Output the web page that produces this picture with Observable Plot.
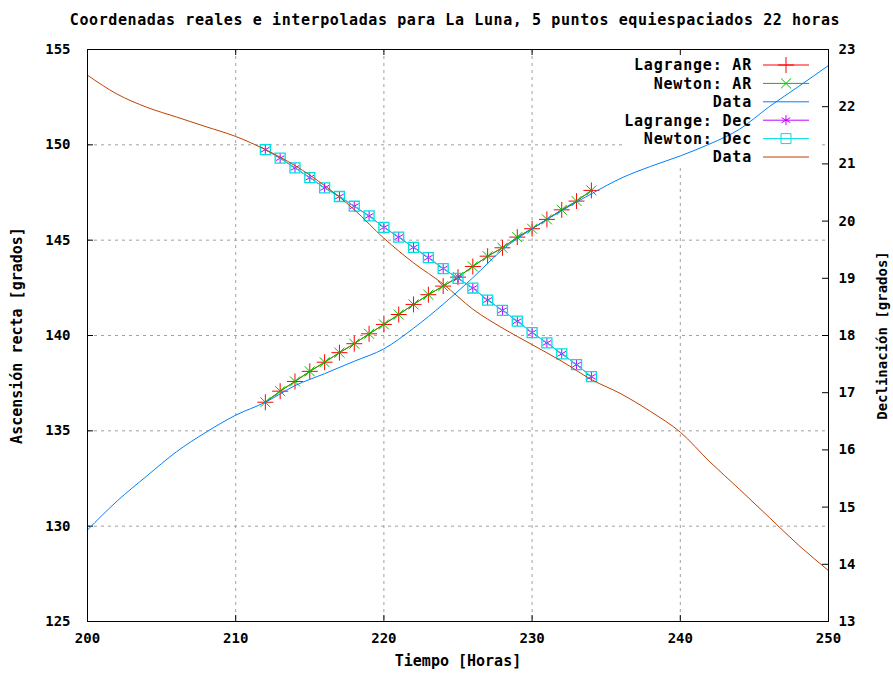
<!DOCTYPE html>
<html>
<head>
<meta charset="utf-8">
<script src="https://cdn.jsdelivr.net/npm/d3@7"></script>
<script src="https://cdn.jsdelivr.net/npm/@observablehq/plot@0.6"></script>
<style>
  body { margin: 0; background: #fff; }
  #title {
    width: 876px; height: 40px; padding-left: 17px;
    font-family: "DejaVu Sans Mono", monospace; font-weight: bold;
    font-size: 15px; letter-spacing: 0.6px; line-height: 40px;
    text-align: center; color: #000; white-space: nowrap;
  }
</style>
</head>
<body>
<div id="title">Coordenadas reales e interpoladas para La Luna, 5 puntos equiespaciados 22 horas</div>
<div id="chart"></div>
<script>
// ---------- data ----------
const interpHours = [212,213,214,215,216,217,218,219,220,221,222,223,224,225,226,227,228,229,230,231,232,233,234];
const raLagrange = [136.50,137.08,137.59,138.12,138.60,139.10,139.57,140.09,140.58,141.10,141.63,142.14,142.59,143.06,143.62,144.16,144.60,145.16,145.60,146.09,146.59,147.05,147.61];
const raNewton   = [136.50,137.08,137.59,138.12,138.60,139.10,139.57,140.09,140.58,141.10,141.63,142.14,142.59,143.06,143.62,144.16,144.60,145.16,145.60,146.09,146.59,147.05,147.61];
const decLagrange = [21.25,21.10,20.93,20.76,20.58,20.43,20.26,20.09,19.89,19.72,19.54,19.36,19.17,19.00,18.83,18.62,18.44,18.25,18.05,17.87,17.68,17.49,17.28];
const decNewton   = [21.25,21.10,20.93,20.76,20.58,20.43,20.26,20.09,19.89,19.72,19.54,19.36,19.17,19.00,18.83,18.62,18.44,18.25,18.05,17.87,17.68,17.49,17.28];

const dataHours = [200,202,204,206,208,210,212,214,216,218,220,222,224,226,228,230,232,234,236,238,240,242,244,246,248,250];
const raData  = [129.80,131.32,132.63,133.90,134.93,135.82,136.50,137.37,138.00,138.65,139.30,140.38,141.64,143.03,144.50,145.60,146.55,147.43,148.25,148.87,149.42,150.05,150.82,152.00,153.07,154.16];
const decData = [22.55,22.22,21.99,21.82,21.65,21.48,21.25,20.97,20.62,20.20,19.70,19.27,18.90,18.46,18.13,17.84,17.55,17.23,16.98,16.67,16.31,15.79,15.31,14.82,14.33,13.89];

const xTicks = [200,210,220,230,240,250];
const yTicks = [125,130,135,140,145,150,155];
const decTicks = [13,14,15,16,17,18,19,20,21,22,23];
const xGrid = [210,220,230,240];
const yGrid = [130,135,140,145,150];

const legendLabels = ["Lagrange: AR","Newton: AR","Data","Lagrange: Dec","Newton: Dec","Data"];
const seriesColors = ["#ff0000","#00c000","#0080ff","#c000ff","#00e0e0","#c04000"];

// ---------- helpers ----------
const Y0 = 125, D0 = 13, K = 3;           // right axis 13..23 maps onto left 125..155
const decToY = d => Y0 + (d - D0) * K;
const yToDec = y => (y - Y0) / K + D0;

const sizes = {plus: 85, times: 67, asterisk: 70, square2: 127};
const rOf = s => Math.sqrt(sizes[s] / Math.PI);
const d3sym = {plus: d3.symbolPlus, times: d3.symbolTimes, asterisk: d3.symbolAsterisk, square2: d3.symbolSquare2};
const legendSymbols = ["plus","times",null,"asterisk","square2",null];

const zip = (xs, ys, f = v => v) => xs.map((x, i) => ({x, y: f(ys[i])}));
const sRA_L = zip(interpHours, raLagrange);
const sRA_N = zip(interpHours, raNewton);
const sRA_D = zip(dataHours, raData);
const sDec_L = zip(interpHours, decLagrange, decToY);
const sDec_N = zip(interpHours, decNewton, decToY);
const sDec_D = zip(dataHours, decData, decToY);

const W = 893, H = 634, ML = 87, MR = 65, MT = 9, MB = 53;
const FW = W - ML - MR, FH = H - MT - MB;
const TS = 6;
const font = {fontFamily: "DejaVu Sans Mono", fontWeight: "bold", fontSize: 14};
const labelFont = {fontFamily: "DejaVu Sans Mono", fontWeight: "bold", fontSize: 15, textAnchor: "middle"};

function legendBox(index, scales, values, dims) {
  const right = dims.width - dims.marginRight, top = dims.marginTop;
  return d3.create("svg:rect")
    .attr("x", right - 206).attr("y", top).attr("width", 196).attr("height", 116)
    .attr("fill", "#fff").node();
}
function legendMark(index, scales, values, dims) {
  const right = dims.width - dims.marginRight, top = dims.marginTop;
  const g = d3.create("svg:g");
  legendLabels.forEach((lab, i) => {
    const y = top + 16 + 18.4 * i;
    g.append("text").text(lab)
      .attr("x", right - 76).attr("y", y).attr("dy", "0.36em")
      .attr("text-anchor", "end")
      .attr("font-family", "DejaVu Sans Mono").attr("font-weight", "bold")
      .attr("font-size", 15).attr("letter-spacing", 0.8).attr("fill", "#000");
    g.append("line").attr("x1", right - 65).attr("x2", right - 19)
      .attr("y1", y).attr("y2", y).attr("stroke", seriesColors[i]).attr("stroke-width", 1);
    const s = legendSymbols[i];
    if (s) g.append("path").attr("d", d3.symbol(d3sym[s], sizes[s])())
      .attr("transform", `translate(${right - 42},${y})`)
      .attr("fill", "none").attr("stroke", seriesColors[i]).attr("stroke-width", 1);
  });
  return g.node();
}

const grid = {stroke: "#a0a0a0", strokeDasharray: "3,4", strokeWidth: 1};

const plot = Plot.plot({
  width: W, height: H,
  marginLeft: ML, marginRight: MR, marginTop: MT, marginBottom: MB,
  x: {domain: [200, 250]},
  y: {domain: [125, 155]},
  style: {background: "#fff", overflow: "visible", fontFamily: "DejaVu Sans Mono"},
  marks: [
    Plot.ruleX(xGrid, {x: d => d, ...grid}),
    Plot.ruleY(yGrid, {y: d => d, ...grid}),
    legendBox,
    // inward ticks
    Plot.tickY(yTicks, {y: d => d, insetRight: FW - TS, stroke: "#000"}),
    Plot.tickY(decTicks, {y: decToY, insetLeft: FW - TS, stroke: "#000"}),
    Plot.tickX(xTicks, {x: d => d, insetTop: FH - TS, stroke: "#000"}),
    Plot.tickX(xTicks, {x: d => d, insetBottom: FH - TS, stroke: "#000"}),
    // RA series
    Plot.line(sRA_L, {x: "x", y: "y", stroke: seriesColors[0], strokeWidth: 1}),
    Plot.dot(sRA_L, {x: "x", y: "y", symbol: "plus", r: rOf("plus"), stroke: seriesColors[0], fill: "none", strokeWidth: 1}),
    Plot.line(sRA_N, {x: "x", y: "y", stroke: seriesColors[1], strokeWidth: 1}),
    Plot.dot(sRA_N, {x: "x", y: "y", symbol: "times", r: rOf("times"), stroke: seriesColors[1], fill: "none", strokeWidth: 1}),
    Plot.line(sRA_D, {x: "x", y: "y", stroke: seriesColors[2], strokeWidth: 1, curve: "monotone-x"}),
    // Dec series (right axis)
    Plot.line(sDec_L, {x: "x", y: "y", stroke: seriesColors[3], strokeWidth: 1}),
    Plot.dot(sDec_L, {x: "x", y: "y", symbol: "asterisk", r: rOf("asterisk"), stroke: seriesColors[3], fill: "none", strokeWidth: 1}),
    Plot.line(sDec_N, {x: "x", y: "y", stroke: seriesColors[4], strokeWidth: 1}),
    Plot.dot(sDec_N, {x: "x", y: "y", symbol: "square2", r: rOf("square2"), stroke: seriesColors[4], fill: "none", strokeWidth: 1.3}),
    Plot.line(sDec_D, {x: "x", y: "y", stroke: seriesColors[5], strokeWidth: 1, curve: "monotone-x"}),
    Plot.frame({stroke: "#000", strokeWidth: 1}),
    // axes
    Plot.axisX(xTicks, {tickSize: 0, tickPadding: 12, label: null, ...font}),
    Plot.axisY(yTicks, {anchor: "left", tickSize: 0, tickPadding: 17, label: null, ...font}),
    Plot.axisY(decTicks.map(decToY), {anchor: "right", tickSize: 0, tickPadding: 10, label: null,
      tickFormat: y => String(Math.round(yToDec(y))), ...font}),
    // axis titles
    Plot.text(["Tiempo [Horas]"], {frameAnchor: "bottom", dy: 44, text: d => d, ...labelFont}),
    Plot.text(["Ascensión recta [grados]"], {frameAnchor: "left", dx: -70, rotate: -90, text: d => d, ...labelFont}),
    Plot.text(["Declinación [grados]"], {frameAnchor: "right", dx: 54, rotate: -90, text: d => d, ...labelFont, fontSize: 14}),
    legendMark
  ]
});
document.getElementById("chart").appendChild(plot);
</script>
</body>
</html>
